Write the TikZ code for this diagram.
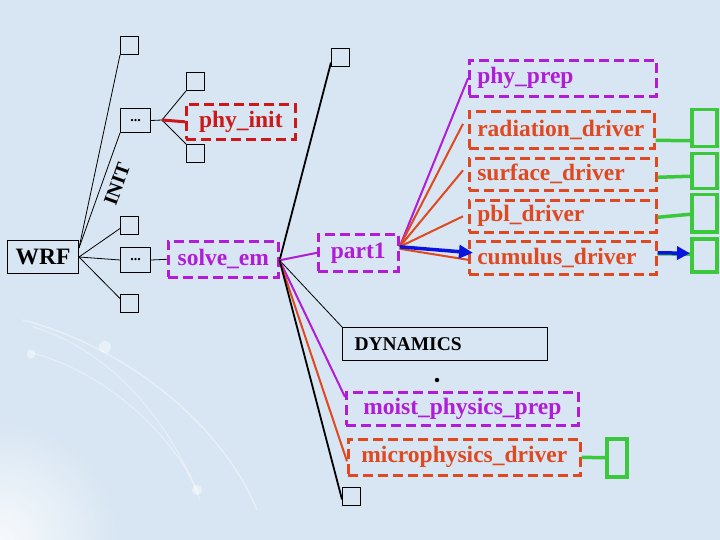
\documentclass[tikz,border=0pt]{standalone}
\usepackage{fontspec}
\setmainfont{Liberation Serif}
\usetikzlibrary{arrows.meta}
\definecolor{bg}{HTML}{D8E6F3}
\definecolor{cred}{HTML}{CC1818}
\definecolor{corn}{HTML}{E04820}
\definecolor{cpur}{HTML}{B01CD8}
\definecolor{cgrn}{HTML}{3CC83C}
\definecolor{cblu}{HTML}{0A14E0}
\tikzset{
  big/.style={font=\bfseries\fontsize{23.5}{28}\selectfont},
  sq/.style={draw=black, line width=1pt, minimum width=18pt, minimum height=18pt, anchor=north west, inner sep=0pt},
  sbox/.style={draw=black, line width=1pt, anchor=north west, inner sep=0pt},
  dbox/.style={draw, line width=2.6pt, dash pattern=on 10pt off 5pt, anchor=north west, inner xsep=8pt, inner ysep=0pt, big},
  gbox/.style={draw=cgrn, line width=3.5pt, minimum width=25pt, anchor=north west, inner sep=0pt},
  thin/.style={draw=black, line width=0.8pt},
  thickblk/.style={draw=black, line width=1.8pt},
  pline/.style={draw=cpur, line width=2pt},
  oline/.style={draw=corn, line width=2pt},
  gline/.style={draw=cgrn, line width=3.5pt},
}
\begin{document}
\begin{tikzpicture}[x=1pt,y=-1pt]
\fill[bg] (0,0) rectangle (720,540);
\useasboundingbox (0,0) rectangle (720,540);
% background decoration
\begin{scope}
\clip (0,0) rectangle (720,540);
\shade[inner color=white, outer color=bg, opacity=0.8] (0,540) circle (120pt);
\draw[white, opacity=0.4, line width=1.4pt] (23,320) .. controls (120,345) and (220,420) .. (257,510);
\draw[white, opacity=0.35, line width=1.2pt] (33,327) .. controls (110,350) and (170,420) .. (200,500);
\draw[white, opacity=0.35, line width=1.2pt] (32,353) .. controls (100,370) and (170,430) .. (197,490);
\fill[white, opacity=0.45] (105,347) circle (6pt);
\fill[white, opacity=0.45] (31,354) circle (4.5pt);
\fill[white, opacity=0.45] (197,490) circle (5pt);
\end{scope}

% left part
\node[sbox, big, minimum width=71pt, minimum height=33pt] (wrf) at (7,240) {WRF};
\node[sq] (sq1) at (120,36) {};
\node[sbox, minimum width=30pt, minimum height=24pt, font=\bfseries\fontsize{14}{16}\selectfont] (dots1) at (120,108) {...};
\node[sq] (sq2) at (186,72) {};
\node[sq] (sq3) at (186,144) {};
\node[dbox, draw=cred, text=cred, text width=93pt, minimum height=35pt, align=center] (phyinit) at (185,103) {phy\_init};
\node[sq] (sqA) at (120,216) {};
\node[sbox, minimum width=30pt, minimum height=25pt, font=\bfseries\fontsize{14}{16}\selectfont] (dots2) at (120,247) {...};
\node[sq] (sqB) at (120,294) {};
\node[dbox, draw=cpur, text=cpur, text width=94pt, minimum height=36pt, align=center] (solveem) at (167,240) {solve\_em};

\draw[thin] ([yshift=9pt]wrf.east) -- (sq1.south west);
\draw[thin] ([yshift=9pt]wrf.east) -- (dots1.south west)
  node[pos=0.6, sloped, below=4pt, font=\bfseries\fontsize{20}{24}\selectfont] {INIT};
\draw[thin] (wrf.east) -- ([yshift=-3pt]sqA.west);
\draw[thin] (wrf.east) -- (dots2.west);
\draw[thin] (wrf.east) -- ([yshift=5pt]sqB.west);

\coordinate (j1) at (162,120);
\draw[thin] (dots1.east) -- (j1);
\draw[thin] (j1) -- (sq2.south west);
\draw[thin] (j1) -- (sq3.north west);
\draw[cred, line width=3pt] (j1) -- (phyinit.west);
\draw[thin] (dots2.east) -- (solveem.west);

% middle part
\node[sq] (sq4) at (331,48) {};
\node[dbox, draw=cpur, text=cpur, text width=64pt, minimum height=37pt, align=center] (part1) at (317,233) {part1};
\node[sbox, minimum width=205pt, minimum height=33pt, text width=181pt, inner xsep=12pt, align=left, font=\bfseries\fontsize{19.5}{23}\selectfont] (dyn) at (342,327) {DYNAMICS};
\node[circle, fill=black, inner sep=0pt, minimum size=4.5pt] (dot) at (437,380) {};
\node[dbox, draw=cpur, text=cpur, text width=216pt, minimum height=33pt, align=center] (moist) at (345,391) {moist\_physics\_prep};
\node[dbox, draw=corn, text=corn, text width=216pt, minimum height=36pt, align=center] (micro) at (347,438) {microphysics\_driver};
\node[gbox, minimum width=20pt, minimum height=38pt] (g5) at (605,437) {};
\node[sq] (sq5) at (342,487) {};

\coordinate (s1) at ([yshift=-1pt]solveem.east);
\draw[thickblk] (s1) -- ([yshift=-5pt]sq4.west);
\draw[pline] (s1) -- (part1.west);
\draw[thin] (s1) -- (dyn.north west);
\draw[pline] (s1) -- ([yshift=-6pt]moist.north west);
\draw[oline] (s1) -- ([yshift=-4pt]micro.west);
\draw[thickblk] (s1) -- ([yshift=-3pt]sq5.west);
\draw[gline] (micro.east) -- (g5.west);

% right part
\node[dbox, draw=cpur, text=cpur, text width=171pt, minimum height=36pt, align=left] (phyprep) at (468,59) {phy\_prep};
\node[dbox, draw=corn, text=corn, text width=169pt, minimum height=37pt, align=left] (rad) at (468,110) {radiation\_driver};
\node[dbox, draw=corn, text=corn, text width=171pt, minimum height=32pt, align=left] (surf) at (468,157) {surface\_driver};
\node[dbox, draw=corn, text=corn, text width=171pt, minimum height=32pt, align=left] (pbl) at (468,199) {pbl\_driver};
\node[dbox, draw=corn, text=corn, text width=171pt, minimum height=33pt, align=left] (cum) at (468,240) {cumulus\_driver};
\node[gbox, minimum height=37pt] (g1) at (690,108) {};
\node[gbox, minimum height=35pt] (g2) at (690,152) {};
\node[gbox, minimum height=37pt] (g3) at (690,193) {};
\node[gbox, minimum height=33pt] (g4) at (690,237) {};

\coordinate (p1) at ([yshift=6pt]part1.east);
\draw[pline] (p1) -- (phyprep.west);
\draw[oline] (p1) -- ([xshift=-5pt,yshift=6pt]rad.west);
\draw[oline] (p1) -- ([xshift=-5pt,yshift=4pt]surf.west);
\draw[oline] (p1) -- ([xshift=-5pt]pbl.west);
\draw[oline] ([yshift=-2pt]p1) -- ([yshift=-2pt]cum.west);
\draw[cblu, line width=3.5pt, -{Triangle[length=14pt,width=13pt]}] (p1) -- ([xshift=5pt,yshift=5pt]cum.west);

\draw[gline] ([yshift=-10.5pt]rad.east) -- ([yshift=-12.5pt]g1.west);
\draw[gline] ([yshift=-3pt]surf.east) -- ([yshift=-5pt]g2.west);
\draw[gline] ([yshift=-1pt]pbl.east) -- ([yshift=-1pt]g3.west);
\draw[gline] ([yshift=4pt]cum.east) -- ([yshift=1pt]g4.west);
\draw[cblu, line width=3.5pt, -{Triangle[length=13pt,width=13pt]}] ([yshift=5pt]cum.east) -- ([yshift=2pt]g4.west);
\end{tikzpicture}
\end{document}
